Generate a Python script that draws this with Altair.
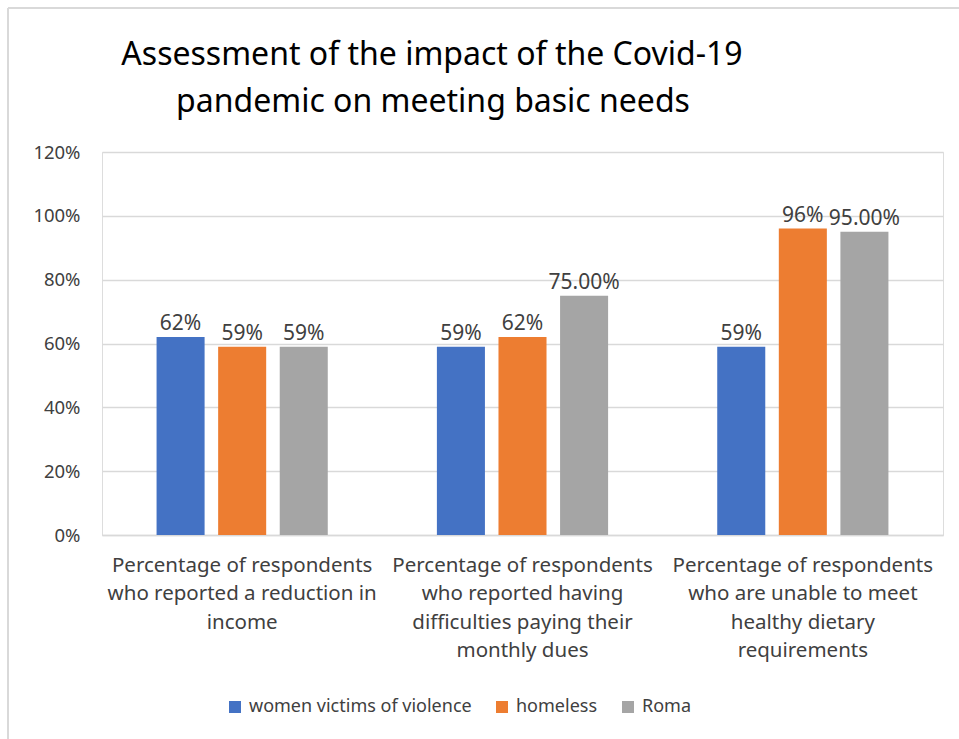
import altair as alt
import pandas as pd

title_lines = ["Assessment of the impact of the Covid-19", "pandemic on meeting basic needs"]

categories = [
    "Percentage of respondents who reported a reduction in income",
    "Percentage of respondents who reported having difficulties paying their monthly dues",
    "Percentage of respondents who are unable to meet healthy dietary requirements",
]
category_lines = [
    ["Percentage of respondents", "who reported a reduction in", "income"],
    ["Percentage of respondents", "who reported having", "difficulties paying their", "monthly dues"],
    ["Percentage of respondents", "who are unable to meet", "healthy dietary", "requirements"],
]
series = ["women victims of violence", "homeless", "Roma"]
colors = ["#4472C4", "#ED7D31", "#A5A5A5"]

women_values = [0.62, 0.59, 0.59]
homeless_values = [0.59, 0.62, 0.96]
roma_values = [0.59, 0.75, 0.95]

women_labels = ["62%", "59%", "59%"]
homeless_labels = ["59%", "62%", "96%"]
roma_labels = ["59%", "75.00%", "95.00%"]

y_ticks = [0, 0.2, 0.4, 0.6, 0.8, 1.0, 1.2]

rows = []
for s, vals, labs in [
    (series[0], women_values, women_labels),
    (series[1], homeless_values, homeless_labels),
    (series[2], roma_values, roma_labels),
]:
    for c, v, l in zip(categories, vals, labs):
        rows.append({"category": c, "series": s, "value": v, "label": l})
df = pd.DataFrame(rows)

# multi-line x labels
expr_parts = []
for c, lines in zip(categories[:-1], category_lines[:-1]):
    arr = "[" + ",".join("'" + ln + "'" for ln in lines) + "]"
    expr_parts.append(f"datum.value == '{c}' ? {arr} : ")
last = "[" + ",".join("'" + ln + "'" for ln in category_lines[-1]) + "]"
label_expr = "".join(expr_parts) + last

FONT = "Noto Sans"
TXT = "#404040"

x_enc = alt.X(
    "category:N",
    sort=categories,
    scale=alt.Scale(paddingInner=0, paddingOuter=0),
    axis=alt.Axis(
        title=None,
        labelAngle=0,
        labelExpr=label_expr,
        labelFont=FONT,
        labelFontSize=20.5,
        labelColor=TXT,
        labelLineHeight=28.5,
        labelPadding=20,
        labelBaseline="top",
        labelLimit=400,
        ticks=False,
        domain=True,
        domainColor="#d9d9d9",
        domainWidth=1.5,
    ),
)
xoff = alt.XOffset(
    "series:N",
    sort=series,
    scale=alt.Scale(paddingInner=0.22, paddingOuter=0.886),
)
y_enc = alt.Y(
    "value:Q",
    scale=alt.Scale(domain=[0, 1.2], nice=False),
    axis=alt.Axis(
        title=None,
        values=y_ticks,
        format=".0%",
        labelFont=FONT,
        labelFontSize=18.5,
        labelColor=TXT,
        labelPadding=22,
        ticks=False,
        domain=False,
        grid=True,
        gridColor="#d9d9d9",
        gridWidth=1.5,
    ),
)

base = alt.Chart(df)

bars = base.mark_bar().encode(
    x=x_enc,
    xOffset=xoff,
    y=y_enc,
    color=alt.Color(
        "series:N",
        sort=series,
        scale=alt.Scale(domain=series, range=colors),
        legend=alt.Legend(
            title=None,
            orient="none",
            direction="horizontal",
            legendX=124,
            legendY=546,
            symbolType="square",
            symbolSize=144,
            symbolStrokeWidth=0,
            labelFont=FONT,
            labelFontSize=18,
            labelColor=TXT,
            labelOffset=5,
            columnPadding=21,
            labelLimit=400,
        ),
    ),
)

texts = base.mark_text(
    baseline="alphabetic", dy=-7, font=FONT, fontSize=21, color=TXT
).encode(
    x=alt.X("category:N", sort=categories),
    xOffset=alt.XOffset("series:N", sort=series),
    y="value:Q",
    text="label:N",
)

one = alt.Data(values=[{"k": 1}])
top_border = alt.Chart(one).mark_rule(color="#d9d9d9", strokeWidth=2).encode(
    x=alt.value(-94), x2=alt.value(857), y=alt.value(-144)
)
left_border = alt.Chart(one).mark_rule(color="#d9d9d9", strokeWidth=2).encode(
    x=alt.value(-94), y=alt.value(-144), y2=alt.value(587)
)
title1 = alt.Chart(one).mark_text(
    font=FONT, fontSize=32, color="#000000", align="center", baseline="alphabetic"
).encode(x=alt.value(330), y=alt.value(-87), text=alt.value(title_lines[0]))
title2 = alt.Chart(one).mark_text(
    font=FONT, fontSize=32, color="#000000", align="center", baseline="alphabetic"
).encode(x=alt.value(331), y=alt.value(-40), text=alt.value(title_lines[1]))

chart = alt.layer(bars, texts, top_border, left_border, title1, title2).properties(
    width=841,
    height=383,
    padding={"left": 102, "top": 152, "right": 16, "bottom": 204},
    autosize=alt.AutoSizeParams(type="none"),
).configure_view(stroke=None).configure(background="white")

chart.save("out.html", embed_options={"renderer": "svg", "actions": False})
